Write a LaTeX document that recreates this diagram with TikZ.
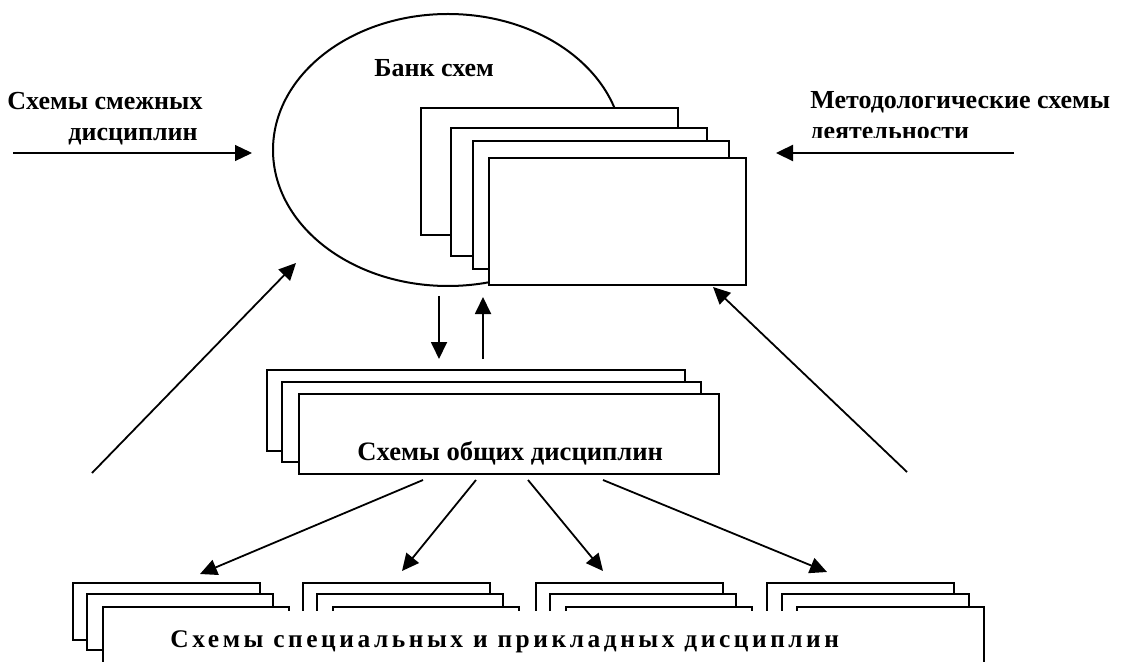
\documentclass[tikz,border=0pt]{standalone}
\usepackage{fontspec}
\setmainfont{Liberation Serif}
\newfontfamily\spacedfont[LetterSpace=14]{Liberation Serif}
\usetikzlibrary{arrows.meta}

\begin{document}
\begin{tikzpicture}[x=0.5pt,y=-0.5pt,
    sheet/.style={draw,fill=white,line width=1pt},
    caption/.style={anchor=base west,inner sep=0pt,font=\bfseries\fontsize{13}{15.5}\selectfont},
    link/.style={-{Triangle[length=8.5pt,width=8pt]},line width=0.9pt}]
  \useasboundingbox (0,0) rectangle (1122,662);
  % bank of schemes
  \draw[line width=1pt] (448,150) ellipse [x radius=175, y radius=136];
  \node[caption] (bank) at (374,77) {Банк схем};
  \draw[sheet] (421,108) rectangle (678,235);
  \draw[sheet] (451,128) rectangle (707,256);
  \draw[sheet] (473,141) rectangle (729,269);
  \draw[sheet] (489,158) rectangle (746,285);
  % inputs from both sides
  \node[caption,align=left] (adjacent) at (7,141) {Схемы смежных\\\hspace*{30.5pt}дисциплин};
  \begin{scope}
    \clip (790,60) rectangle (1122,137.5);
    \node[caption,align=left] (method) at (810,140) {Методологические схемы\\деятельности};
  \end{scope}
  \coordinate (adjacentStart) at (13,153);
  \coordinate (bankLeft) at (252,153);
  \coordinate (methodStart) at (1014,153);
  \coordinate (bankRight) at (776,153);
  \draw[link,line width=0.6pt] (adjacentStart) -- (bankLeft);
  \draw[link,line width=1.2pt] (methodStart) -- (bankRight);
  % general disciplines
  \draw[sheet] (267,370) rectangle (685,451);
  \draw[sheet] (282,382) rectangle (701,462);
  \draw[sheet] (299,394) rectangle (719,474);
  \node[caption,font=\bfseries\fontsize{13.3}{15.5}\selectfont] (general) at (357,460) {Схемы общих дисциплин};
  \coordinate (bankDownTop) at (439,296);
  \coordinate (generalDownTop) at (439,359);
  \coordinate (generalUpTop) at (483,359);
  \coordinate (bankUpTop) at (483,297);
  \draw[link] (bankDownTop) -- (generalDownTop);
  \draw[link] (generalUpTop) -- (bankUpTop);
  % special and applied disciplines
  \draw[sheet] (73,583) rectangle (260,640);
  \draw[sheet] (87,594) rectangle (273,650);
  \draw[sheet] (103,607) rectangle (289,670);
  \draw[sheet] (303,583) rectangle (490,640);
  \draw[sheet] (317,594) rectangle (503,650);
  \draw[sheet] (333,607) rectangle (519,670);
  \draw[sheet] (536,583) rectangle (723,640);
  \draw[sheet] (550,594) rectangle (736,650);
  \draw[sheet] (566,607) rectangle (752,670);
  \draw[sheet] (767,583) rectangle (954,640);
  \draw[sheet] (782,594) rectangle (969,650);
  \draw[sheet] (797,607) rectangle (984,670);
  \fill[white] (104.5,611) rectangle (975,670);
  \node[caption,font=\bfseries\spacedfont\fontsize{12.7}{14}\selectfont] (special) at (170,647) {Схемы специальных и прикладных дисциплин};
  % connectors
  \coordinate (fanA) at (423,480);
  \coordinate (fanB) at (476,480);
  \coordinate (fanC) at (528,480);
  \coordinate (fanD) at (603,480);
  \coordinate (groupA) at (200,574);
  \coordinate (groupB) at (402,571);
  \coordinate (groupC) at (603,571);
  \coordinate (groupD) at (827,572);
  \draw[link] (fanA) -- (groupA);
  \draw[link] (fanB) -- (groupB);
  \draw[link] (fanC) -- (groupC);
  \draw[link] (fanD) -- (groupD);
  \coordinate (specialLeft) at (92,473);
  \coordinate (bankLow) at (296,263);
  \coordinate (specialRight) at (907,472);
  \coordinate (bankCorner) at (713,287);
  \draw[link] (specialLeft) -- (bankLow);
  \draw[link] (specialRight) -- (bankCorner);
\end{tikzpicture}
\end{document}
